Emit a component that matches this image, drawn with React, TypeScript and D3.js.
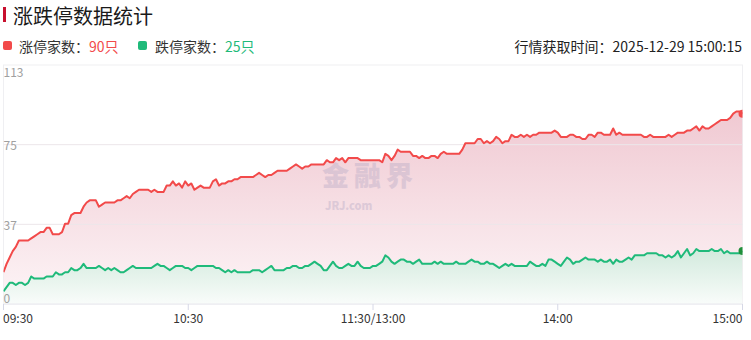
import React from "react";
import * as d3 from "d3";

const W = 751;
const H = 340;

const title = "涨跌停数据统计";
const upLabel = "涨停家数：";
const downLabel = "跌停家数：";
const upCount = "90只";
const downCount = "25只";
const timeText = "行情获取时间：2025-12-29 15:00:15";

const xTickIndex = [0, 60, 120, 180, 240];
const xTickLabels = ["09:30", "10:30", "11:30/13:00", "14:00", "15:00"];
const yMax = 113;
const yTickValues = [0, 113 / 3, 226 / 3, 113];

const upSeries = [
  15, 19, 22, 25, 27, 30, 30, 30, 30, 31, 32, 33, 34, 34, 36, 36, 33, 33, 33, 34,
  38, 38, 42, 43, 43, 43, 46, 48, 49, 49, 49, 46, 47, 48, 48, 48, 48, 49, 49, 50,
  51, 50, 52, 53, 54, 54, 54, 54, 53, 54, 53, 53, 53, 56, 56, 58, 56, 57, 55, 58,
  56, 57, 54, 55, 56, 55, 55, 55, 58, 59, 56, 57, 57, 58, 58, 59, 59, 60, 60, 60,
  60, 60, 61, 62, 61, 60, 61, 61, 62, 63, 63, 63, 63, 64, 65, 66, 65, 64, 65, 65,
  66, 66, 66, 66, 66, 68, 67, 67, 69, 68, 69, 67, 69, 69, 69, 69, 68, 68, 68, 68,
  68, 68, 68, 67, 71, 70, 68, 70, 73, 72, 72, 72, 72, 70, 70, 69, 70, 69, 69, 70,
  70, 69, 71, 72, 71, 71, 71, 71, 71, 73, 76, 76, 76, 76, 78, 78, 76, 77, 76, 77,
  79, 78, 76, 77, 77, 80, 79, 79, 80, 79, 80, 79, 80, 80, 81, 81, 81, 81, 81, 82,
  81, 79, 79, 79, 80, 80, 79, 79, 78, 78, 80, 80, 79, 81, 81, 80, 80, 80, 83, 80,
  81, 80, 80, 80, 80, 80, 80, 80, 79, 79, 80, 79, 79, 79, 79, 79, 80, 79, 80, 81,
  81, 81, 82, 82, 83, 84, 82, 84, 83, 83, 84, 85, 86, 87, 87, 87, 88, 90, 91, 91,
  90,
];

const downSeries = [
  6, 8, 10, 10, 9, 10, 10, 9, 10, 13, 12, 12, 12, 12, 13, 13, 13, 15, 14, 14,
  15, 15, 17, 16, 16, 17, 19, 17, 17, 17, 17, 18, 17, 16, 17, 16, 17, 16, 15, 15,
  16, 17, 18, 17, 17, 17, 17, 17, 17, 18, 19, 18, 18, 17, 16, 17, 18, 18, 18, 17,
  17, 16, 17, 18, 18, 18, 18, 18, 18, 17, 17, 16, 15, 16, 15, 16, 15, 15, 15, 15,
  15, 16, 16, 16, 15, 16, 17, 18, 16, 16, 16, 16, 17, 17, 18, 18, 17, 17, 18, 18,
  19, 20, 19, 18, 16, 16, 18, 20, 18, 17, 17, 18, 19, 18, 18, 20, 18, 17, 17, 17,
  18, 18, 19, 20, 23, 22, 20, 19, 20, 21, 21, 20, 20, 19, 20, 21, 19, 19, 19, 19,
  20, 19, 20, 19, 19, 19, 19, 20, 19, 19, 19, 20, 21, 20, 20, 19, 19, 20, 19, 19,
  18, 17, 18, 19, 18, 19, 18, 18, 18, 18, 18, 20, 19, 18, 18, 19, 18, 21, 21, 20,
  19, 18, 20, 22, 21, 19, 20, 20, 21, 22, 21, 21, 21, 20, 21, 20, 20, 21, 19, 21,
  20, 20, 21, 22, 21, 23, 23, 23, 23, 24, 24, 24, 24, 23, 23, 22, 23, 22, 23, 25,
  22, 24, 26, 23, 24, 26, 25, 25, 25, 25, 26, 25, 25, 26, 24, 25, 24, 24, 24, 24,
  25,
];

const FONT = "'Noto Sans CJK SC', 'Noto Sans', sans-serif";
const RED = "#f24a4a";
const GREEN = "#1fba7a";

export default function App() {
  const left = 3.5;
  const right = 742.5;
  const top = 65;
  const bottom = 304;

  const x = d3.scaleLinear().domain([0, 240]).range([left, right]);
  const y = d3.scaleLinear().domain([0, yMax]).range([bottom, top]);

  const line = d3
    .line<number>()
    .x((_, i) => x(i))
    .y((d) => y(d));
  const area = d3
    .area<number>()
    .x((_, i) => x(i))
    .y0(y(0))
    .y1((d) => y(d));

  const upTop = y(d3.max(upSeries) as number);
  const downTop = y(d3.max(downSeries) as number);
  const lastUp = upSeries[upSeries.length - 1];
  const lastDown = downSeries[downSeries.length - 1];

  return (
    <svg
      width={W}
      height={H}
      style={{ position: "absolute", left: 0, top: 0, background: "#fff" }}
      fontFamily={FONT}
    >
      <defs>
        <linearGradient id="gRed" gradientUnits="userSpaceOnUse" x1={0} y1={upTop} x2={0} y2={bottom}>
          <stop offset="0%" stopColor="#f0c9d2" />
          <stop offset="100%" stopColor="#fdf5f7" />
        </linearGradient>
        <linearGradient id="gGreen" gradientUnits="userSpaceOnUse" x1={0} y1={downTop} x2={0} y2={bottom}>
          <stop offset="0%" stopColor="#d2eadd" />
          <stop offset="100%" stopColor="#f9fcfa" />
        </linearGradient>
        <clipPath id="plotClip">
          <rect x={left} y={top} width={right - left} height={bottom - top} />
        </clipPath>
      </defs>

      {/* title */}
      <rect x={3} y={7} width={3} height={15} fill="#c8102e" />
      <text x={13} y={15} dominantBaseline="central" fontSize={20} fill="#1a1a1a">
        {title}
      </text>

      {/* legend */}
      <rect x={3} y={41} width={9} height={9} rx={2} fill={RED} />
      <text x={19} y={46} dominantBaseline="central" fontSize={14} fill="#333">
        {upLabel}
        <tspan fill={RED}>{upCount}</tspan>
      </text>
      <rect x={138} y={41} width={9} height={9} rx={2} fill={GREEN} />
      <text x={155} y={46} dominantBaseline="central" fontSize={14} fill="#333">
        {downLabel}
        <tspan fill={GREEN}>{downCount}</tspan>
      </text>
      <text x={742} y={46} dominantBaseline="central" textAnchor="end" fontSize={14} fill="#222">
        {timeText}
      </text>

      {/* plot border and grid */}
      <rect x={left} y={top} width={right - left} height={bottom - top} fill="none" stroke="#efeff2" strokeWidth={1} />

      <g clipPath="url(#plotClip)">
        <path d={area(upSeries) as string} fill="url(#gRed)" />
        <path d={area(downSeries) as string} fill="url(#gGreen)" />
      </g>

      {yTickValues.slice(1, 3).map((v, i) => (
        <line key={i} x1={left} x2={right} y1={y(v)} y2={y(v)} stroke="#ece6ea" strokeWidth={1} />
      ))}

      {/* watermark */}
      <g fill="#b4a8c4" opacity={0.38} fontWeight={900}>
        <text x={322} y={186} fontSize={27} letterSpacing={5}>金融界</text>
        <text x={325} y={210} fontSize={11}>JRJ.com</text>
      </g>

      <g clipPath="url(#plotClip)">
        <path d={line(upSeries) as string} fill="none" stroke={RED} strokeWidth={2} strokeLinejoin="round" />
        <path d={line(downSeries) as string} fill="none" stroke={GREEN} strokeWidth={2} strokeLinejoin="round" />
        <circle cx={x(240)} cy={y(lastUp)} r={4} fill={RED} />
        <circle cx={x(240)} cy={y(lastDown)} r={4} fill="#1f8f3a" />
      </g>

      {/* x axis */}
      <line x1={left} x2={right} y1={bottom} y2={bottom} stroke="#e8e8ee" strokeWidth={1} />
      {xTickIndex.map((t, i) => (
        <line key={"t" + i} x1={x(t)} x2={x(t)} y1={bottom} y2={bottom + 6} stroke="#d6d8e6" strokeWidth={1} />
      ))}
      {xTickIndex.map((t, i) => (
        <text
          key={"l" + i}
          x={i === 0 ? x(t) - 0.5 : x(t)}
          y={317}
          dominantBaseline="central"
          textAnchor={i === 0 ? "start" : i === xTickIndex.length - 1 ? "end" : "middle"}
          fontSize={12}
          fill="#333"
        >
          {xTickLabels[i]}
        </text>
      ))}

      {/* y labels */}
      {yTickValues.map((v, i) => (
        <text
          key={"y" + i}
          x={left}
          y={i === 0 ? y(v) - 7 : i === yTickValues.length - 1 ? y(v) + 6 : y(v)}
          dominantBaseline="central"
          fontSize={12}
          fill="#a0a0a0"
        >
          {Math.floor(v)}
        </text>
      ))}
    </svg>
  );
}
